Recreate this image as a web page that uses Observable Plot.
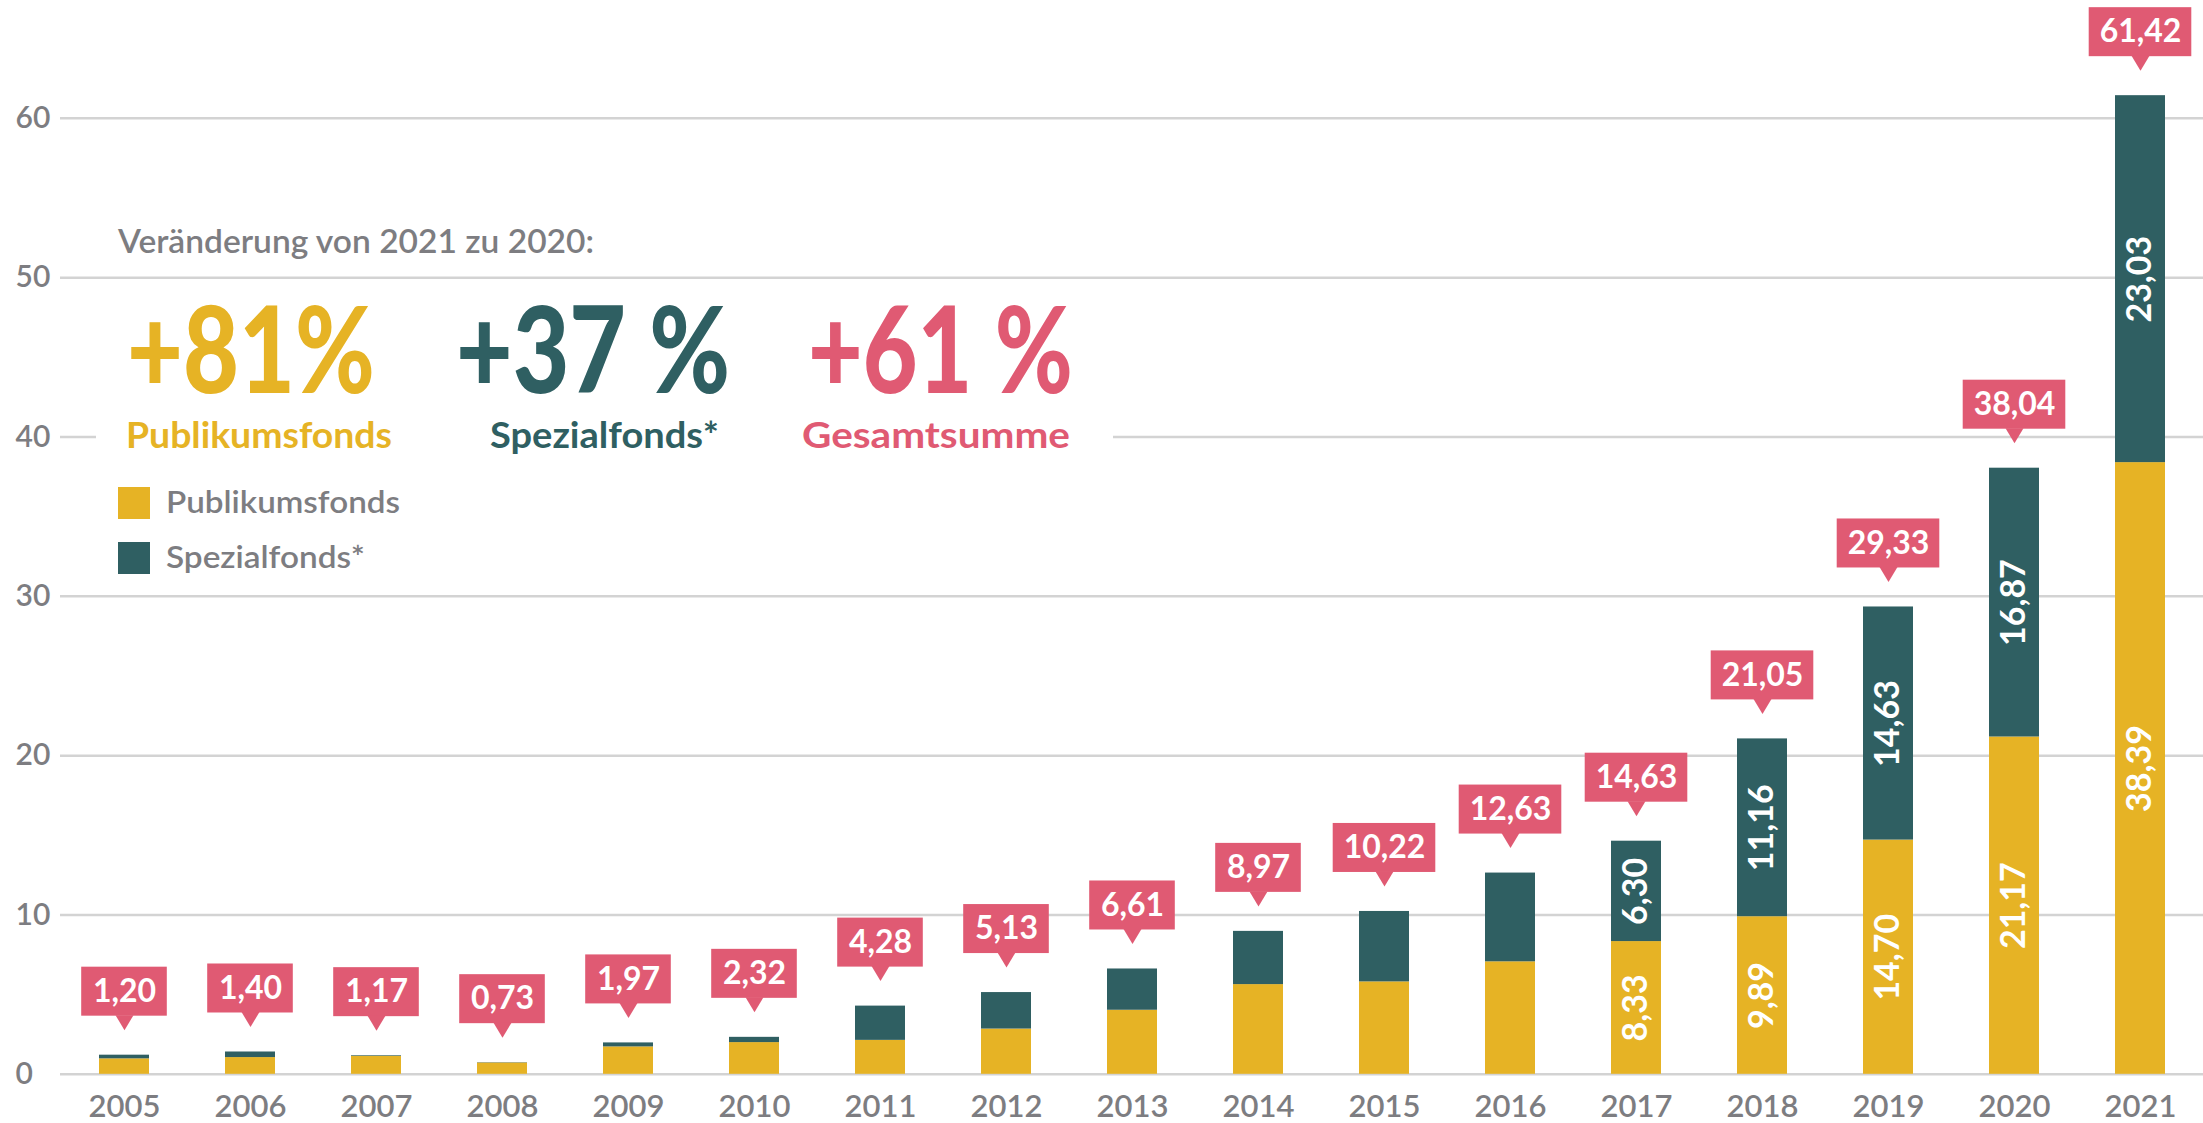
<!DOCTYPE html>
<html><head><meta charset="utf-8">
<script src="https://cdn.jsdelivr.net/npm/d3@7"></script>
<script src="https://cdn.jsdelivr.net/npm/@observablehq/plot@0.6"></script>
<style>html,body{margin:0;padding:0;background:#fff;} #chart{width:2203px;height:1123px;overflow:hidden;}</style>
</head><body><div id="chart"></div>
<script>
// ---- data ----
const years = ["2005","2006","2007","2008","2009","2010","2011","2012","2013","2014","2015","2016","2017","2018","2019","2020","2021"];
const publikum = [0.97,1.05,1.13,0.71,1.72,1.99,2.13,2.84,4.02,5.63,5.80,7.06,8.33,9.89,14.70,21.17,38.39];
const spezial  = [0.23,0.35,0.04,0.02,0.25,0.33,2.15,2.29,2.59,3.34,4.42,5.57,6.30,11.16,14.63,16.87,23.03];
const totals   = [1.20,1.40,1.17,0.73,1.97,2.32,4.28,5.13,6.61,8.97,10.22,12.63,14.63,21.05,29.33,38.04,61.42];
const labeledYears = ["2017","2018","2019","2020","2021"];
const yTicks = [0,10,20,30,40,50,60];
const series = ["Publikumsfonds","Spezialfonds*"];
const changeTitle = "Veränderung von 2021 zu 2020:";
const changes = ["+81%","+37 %","+61 %"];
const changeLabels = ["Publikumsfonds","Spezialfonds*","Gesamtsumme"];

// ---- styles ----
const YEL = "#e6b325", TEAL = "#2f5f62", PINK = "#e05a73", GRAY = "#7d7d81", GRID = "#d3d3d3";
const fmt = v => d3.format(".2f")(v).replace(".", ",");

const rows = [];
years.forEach((y, i) => {
  rows.push({year: y, series: series[0], value: publikum[i]});
  rows.push({year: y, series: series[1], value: spezial[i]});
});
const tot = years.map((y, i) => ({year: y, total: totals[i], label: fmt(totals[i])}));
const inner = [];
years.forEach((y, i) => {
  if (labeledYears.includes(y)) {
    inner.push({year: y, mid: publikum[i] / 2, label: fmt(publikum[i])});
    inner.push({year: y, mid: publikum[i] + spezial[i] / 2, label: fmt(spezial[i])});
  }
});
const shortTot = tot.filter(d => d.label.length <= 4);
const longTot = tot.filter(d => d.label.length > 4);

const downTriangle = {draw(ctx) { ctx.moveTo(-9, 0); ctx.lineTo(9, 0); ctx.lineTo(0, 15); ctx.closePath(); }};

const svg = Plot.plot({
  width: 2203, height: 1123,
  marginLeft: 60, marginRight: 0, marginTop: 0, marginBottom: 49,
  style: {fontFamily: "Lato, sans-serif", color: GRAY, background: "#fff", fontSize: "30px", overflow: "visible"},
  x: {type: "band", domain: years, range: [23.7, 2241.3], padding: 0.6, label: null},
  y: {domain: [0, 60], range: [1073.8, 117.8], label: null},
  color: {domain: series, range: [YEL, TEAL]},
  marks: [
    Plot.gridY(yTicks, {stroke: GRID, strokeOpacity: 1, strokeWidth: 2.5}),
    Plot.axisY(yTicks, {tickSize: 0, tickPadding: 0, textAnchor: "start", dx: -45, fontSize: 30, fontWeight: 600, label: null}),
    Plot.axisX({tickSize: 0, tickPadding: 20, fontSize: 31, fontWeight: 600, letterSpacing: 1.5, label: null}),
    Plot.barY(rows, {x: "year", y: "value", fill: "series"}),
    Plot.text(inner, {x: "year", y: "mid", text: "label", rotate: -90, fill: "#fff", fontSize: 34, fontWeight: 700, letterSpacing: 1.5}),
    Plot.barY(shortTot, {x: "year", y1: "total", y2: "total", fill: PINK, insetLeft: -17.8, insetRight: -17.8, insetTop: -88, insetBottom: 39}),
    Plot.barY(longTot, {x: "year", y1: "total", y2: "total", fill: PINK, insetLeft: -26.3, insetRight: -26.3, insetTop: -88, insetBottom: 39}),
    Plot.dot(tot, {x: "year", y: "total", symbol: downTriangle, fill: PINK, stroke: "none", dy: -40}),
    Plot.text(tot, {x: "year", y: "total", text: "label", dy: -63.5, fill: "#fff", fontSize: 32, fontWeight: 700, letterSpacing: 0.5})
  ]
});
document.getElementById("chart").appendChild(svg);

// ---- annotation block ----
const g = d3.select(svg).append("g").attr("font-family", "Lato, sans-serif").attr("text-anchor", "start");
g.append("rect").attr("x", 96).attr("y", 412).attr("width", 1017).attr("height", 52).attr("fill", "#fff");
g.append("text").attr("x", 118).attr("y", 253).attr("font-size", 33).attr("font-weight", 600).attr("fill", GRAY)
  .attr("textLength", 476).attr("lengthAdjust", "spacingAndGlyphs").text(changeTitle);
const bigX = [127, 456, 808], bigW = [248, 274, 265], cols = [YEL, TEAL, PINK];
const labX = [126, 490, 802], labW = [266, 229, 268];
changes.forEach((c, i) => {
  g.append("text").attr("x", bigX[i]).attr("y", 393).attr("font-size", 120).attr("font-weight", 900).attr("fill", cols[i])
    .attr("textLength", bigW[i]).attr("lengthAdjust", "spacingAndGlyphs").text(c);
  g.append("text").attr("x", labX[i]).attr("y", 448).attr("font-size", 36).attr("font-weight", 700).attr("fill", cols[i])
    .attr("textLength", labW[i]).attr("lengthAdjust", "spacingAndGlyphs").text(changeLabels[i]);
});
const legY = [487, 542], legW = [234, 199];
series.forEach((s, i) => {
  g.append("rect").attr("x", 118).attr("y", legY[i]).attr("width", 32).attr("height", 32).attr("fill", [YEL, TEAL][i]);
  g.append("text").attr("x", 166).attr("y", legY[i] + 26).attr("font-size", 31).attr("font-weight", 600).attr("fill", GRAY)
    .attr("textLength", legW[i]).attr("lengthAdjust", "spacingAndGlyphs").text(s);
});
</script>
</body></html>
